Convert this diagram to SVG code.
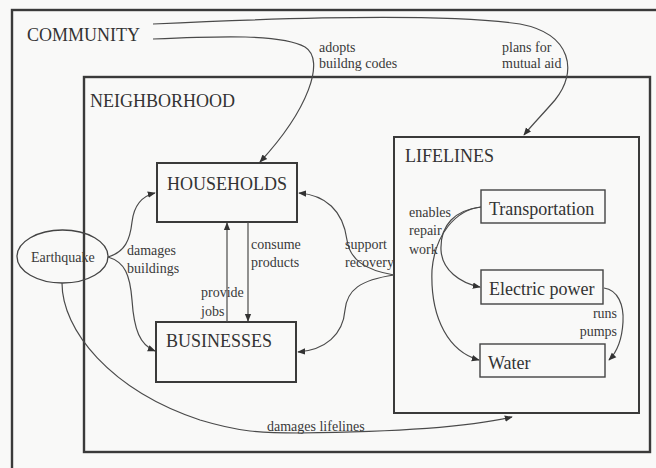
<svg xmlns="http://www.w3.org/2000/svg" width="656" height="468" viewBox="0 0 656 468">
<defs>
<style>
.frame{fill:none;stroke:#3a3a3a;stroke-width:2.4}
.box{fill:none;stroke:#3a3a3a;stroke-width:2}
.sbox{fill:none;stroke:#444;stroke-width:1.4}
.big{font-family:"Liberation Serif",serif;font-size:18px;fill:#333}
.small{font-family:"Liberation Serif",serif;font-size:14px;fill:#3a3a3a}
.conn path,.conn line{fill:none;stroke:#4a4a4a;stroke-width:1.2;marker-end:url(#ah)}
</style>
<marker id="ah" viewBox="0 0 10 10" refX="9" refY="5" markerWidth="8" markerHeight="8" markerUnits="userSpaceOnUse" orient="auto">
<path d="M0,1 L10,5 L0,9 Z" fill="#333"/>
</marker>
</defs>
<rect x="0" y="0" width="656" height="468" fill="#f9f9f8"/>
<g id="community">
<rect class="frame" x="12" y="10" width="660" height="470"/>
<text class="big" x="27" y="41">COMMUNITY</text>
</g>
<g id="neighborhood">
<rect class="frame" x="84" y="77" width="566" height="375"/>
<text class="big" x="90" y="107">NEIGHBORHOOD</text>
</g>
<g id="lifelines">
<rect class="box" x="394" y="137" width="245" height="276"/>
<text class="big" x="405" y="162">LIFELINES</text>
</g>
<g id="households">
<rect class="box" x="157" y="163" width="140" height="59"/>
<text class="big" x="167" y="190">HOUSEHOLDS</text>
</g>
<g id="businesses">
<rect class="box" x="156" y="322" width="140" height="60"/>
<text class="big" x="166" y="347">BUSINESSES</text>
</g>
<g id="earthquake">
<ellipse cx="62.5" cy="256.5" rx="45.5" ry="26.5" fill="none" stroke="#444" stroke-width="1.3"/>
<text class="small" x="31" y="262">Earthquake</text>
</g>
<g id="transportation">
<rect class="sbox" x="481" y="190" width="124" height="33"/>
<text class="big" x="489" y="215">Transportation</text>
</g>
<g id="electric">
<rect class="sbox" x="481" y="270" width="122" height="34"/>
<text class="big" x="489" y="295">Electric power</text>
</g>
<g id="water">
<rect class="sbox" x="480" y="344" width="125" height="33"/>
<text class="big" x="488" y="369">Water</text>
</g>
<g id="connectors" class="conn">
<path d="M153,24 C 300,17 450,14 520,24 C 572,34 578,72 555,100 C 542,115 532,125 524,135"/>
<path d="M153,39 C 220,36 282,34 305,47 C 326,60 308,110 260,162"/>
<path d="M108,257 C 125,252 130,240 132,222 C 134,205 142,196 155,193"/>
<path d="M108,257 C 125,262 130,275 132,300 C 134,330 140,345 155,351"/>
<line x1="227" y1="322" x2="227" y2="223"/>
<line x1="248" y1="222" x2="248" y2="321"/>
<path d="M394,275 C 365,270 350,260 347,240 C 343,210 325,195 299,193"/>
<path d="M394,275 C 360,280 347,290 345,310 C 343,335 325,350 298,352"/>
<path d="M62,283 C 62,330 110,390 200,420 C 240,432 260,433 300,433 C 400,432 470,427 512,417"/>
<path d="M481,207 C 455,210 440,225 441,250 C 442,270 460,283 480,287"/>
<path d="M481,207 C 455,210 435,235 432,270 C 430,320 450,352 479,360"/>
<path d="M604,288 C 618,290 624,305 623,322 C 622,340 617,352 609,360"/>
</g>
<g id="labels">
<text class="small" x="319" y="52">adopts</text>
<text class="small" x="319" y="68">buildng codes</text>
<text class="small" x="502" y="52">plans for</text>
<text class="small" x="502" y="68">mutual aid</text>
<text class="small" x="127" y="255">damages</text>
<text class="small" x="127" y="273">buildings</text>
<text class="small" x="251" y="249">consume</text>
<text class="small" x="251" y="267">products</text>
<text class="small" x="201" y="297">provide</text>
<text class="small" x="201" y="316">jobs</text>
<text class="small" x="345" y="249">support</text>
<text class="small" x="345" y="267">recovery</text>
<text class="small" x="409" y="217">enables</text>
<text class="small" x="409" y="235">repair</text>
<text class="small" x="409" y="254">work</text>
<text class="small" x="617" y="318" text-anchor="end">runs</text>
<text class="small" x="617" y="336" text-anchor="end">pumps</text>
<text class="small" x="267" y="431">damages lifelines</text>
</g>
</svg>
